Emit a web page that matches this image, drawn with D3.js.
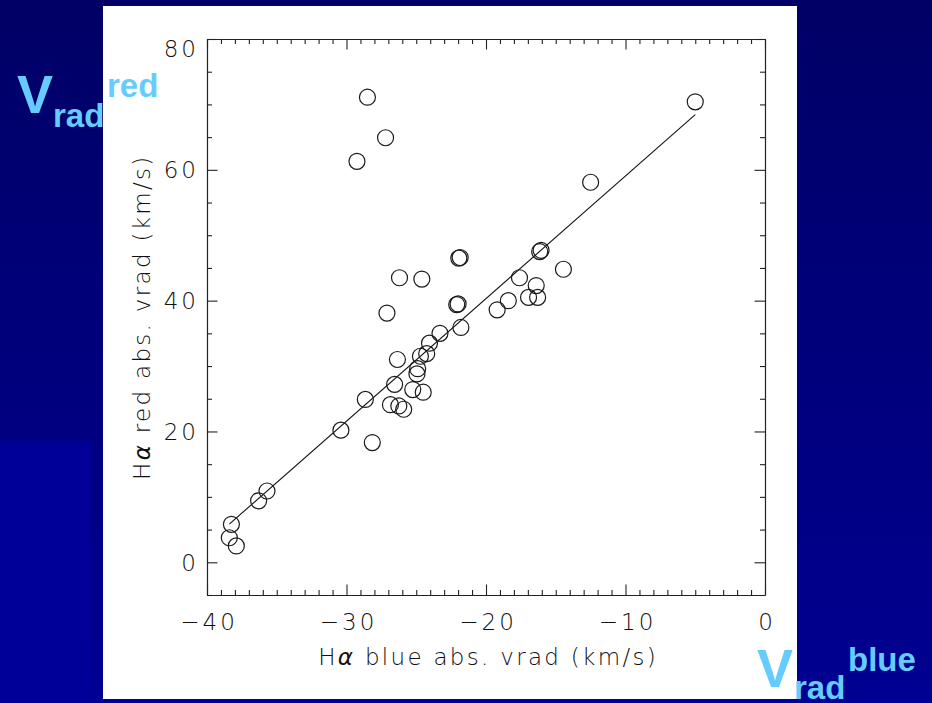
<!DOCTYPE html>
<html>
<head>
<meta charset="utf-8">
<script src="https://cdn.jsdelivr.net/npm/d3@7"></script>
<style>
  html, body { margin: 0; padding: 0; background: #000066; }
  svg { display: block; }
  .tick text, .axis-title { font-family: "DejaVu Sans", "Liberation Sans", sans-serif; font-weight: 200; fill: #111; }
  .slide-label { font-family: "Liberation Sans", Arial, sans-serif; font-weight: bold; fill: #66CCFF; }
</style>
</head>
<body>
<script>
// Hα absorption radial velocities: blue component (x) vs red component (y), km/s
const blueVrad = [
  -5.0, -28.5, -27.2, -29.25, -12.5,
  -21.95, -21.85, -16.15, -16.05,
  -26.2, -24.6, -17.6, -14.45, -16.4,
  -16.95, -16.3, -18.4, -19.2, -22.1, -22.0,
  -27.1, -21.8, -23.3, -24.05, -24.25,
  -24.7, -26.35, -24.9, -24.95, -26.55,
  -25.25, -24.5, -28.65, -26.85, -26.25,
  -25.9, -30.4, -28.15, -35.7, -36.3,
  -38.25, -38.4, -37.9
];
const redVrad = [
  70.4, 71.1, 64.9, 61.3, 58.1,
  46.5, 46.6, 47.5, 47.7,
  43.5, 43.3, 43.5, 44.8, 42.3,
  40.5, 40.5, 40.0, 38.6, 39.4, 39.5,
  38.1, 35.9, 35.0, 33.5, 31.9,
  31.5, 31.0, 29.6, 28.8, 27.2,
  26.4, 26.0, 24.9, 24.1, 23.9,
  23.4, 20.2, 18.3, 10.9, 9.4,
  5.8, 3.75, 2.5
];

// Linear fit red = intercept + slope * blue
const fitIntercept = 77.8;
const fitSlope = 1.874;

// Axis ranges and labelled ticks
const xDomain = [-40, 0];
const yDomain = [-5, 80];
const xMajorTicks = [-40, -30, -20, -10, 0];
const yMajorTicks = [0, 20, 40, 60, 80];
const xMinorStep = 1;
const yMinorStep = 5;

const xTitle = ["H", "α", " blue abs. vrad (km/s)"];
const yTitle = ["H", "α", " red abs. vrad (km/s)"];

const W = 932, H = 703;
const svg = d3.select("body").append("svg").attr("width", W).attr("height", H);

// Slide background
const defs = svg.append("defs");
const grad = defs.append("linearGradient").attr("id", "bg").attr("x1", 0).attr("y1", 0).attr("x2", 0).attr("y2", 1);
grad.append("stop").attr("offset", "0%").attr("stop-color", "#000066");
grad.append("stop").attr("offset", "100%").attr("stop-color", "#000092");
svg.append("rect").attr("width", W).attr("height", H).attr("fill", "url(#bg)");
svg.append("rect").attr("x", 0).attr("y", 441).attr("width", 92).attr("height", H - 441).attr("fill", "#000099");
svg.append("rect").attr("x", 0).attr("y", 699).attr("width", W).attr("height", 4).attr("fill", "#000099");

// White plot panel
svg.append("rect").attr("x", 103).attr("y", 6).attr("width", 694).attr("height", 693).attr("fill", "#ffffff");

// Plot area
const pLeft = 207, pRight = 765, pTop = 39, pBottom = 595;
const x = d3.scaleLinear().domain(xDomain).range([pLeft, pRight]);
const y = d3.scaleLinear().domain(yDomain).range([pBottom, pTop]);

const g = svg.append("g");
const axisColor = "#222";
const majorLen = 10.5, minorLen = 5;

const xMinor = d3.range(xDomain[0], xDomain[1] + 1e-9, xMinorStep).filter(v => !xMajorTicks.includes(v));
const yMinor = d3.range(yDomain[0], yDomain[1] + 1e-9, yMinorStep).filter(v => !yMajorTicks.includes(v));

function styleAxis(sel) {
  sel.select(".domain").attr("stroke", axisColor).attr("stroke-width", 1.2);
  sel.selectAll(".tick line").attr("stroke", axisColor).attr("stroke-width", 1.1);
}

const tickFont = 23, tickSpacing = 3;

// Bottom axis with labels
const gb = g.append("g").attr("transform", `translate(0,${pBottom})`)
  .call(d3.axisBottom(x).tickValues(xMajorTicks).tickSizeInner(-majorLen).tickSizeOuter(0).tickPadding(19)
    .tickFormat(d => d === 0 ? "0" : "\u2212" + Math.abs(d)));
styleAxis(gb);
gb.selectAll(".tick text").attr("font-size", tickFont).attr("letter-spacing", tickSpacing)
  .attr("dx", tickSpacing / 2).attr("dy", "0.71em");
g.append("g").attr("transform", `translate(0,${pBottom})`)
  .call(d3.axisBottom(x).tickValues(xMinor).tickSizeInner(-minorLen).tickSizeOuter(0).tickFormat(""))
  .call(styleAxis).select(".domain").remove();

// Top axis, ticks only
const gt = g.append("g").attr("transform", `translate(0,${pTop})`)
  .call(d3.axisTop(x).tickValues(xMajorTicks).tickSizeInner(-majorLen).tickSizeOuter(0).tickFormat(""));
styleAxis(gt);
g.append("g").attr("transform", `translate(0,${pTop})`)
  .call(d3.axisTop(x).tickValues(xMinor).tickSizeInner(-minorLen).tickSizeOuter(0).tickFormat(""))
  .call(styleAxis).select(".domain").remove();

// Left axis with labels
const gl = g.append("g").attr("transform", `translate(${pLeft},0)`)
  .call(d3.axisLeft(y).tickValues(yMajorTicks).tickSizeInner(-majorLen).tickSizeOuter(0).tickPadding(11));
styleAxis(gl);
gl.selectAll(".tick text").attr("font-size", tickFont).attr("letter-spacing", tickSpacing)
  .attr("dx", tickSpacing)
  .attr("dy", d => d === yDomain[1] ? "0.75em" : "0.35em");
g.append("g").attr("transform", `translate(${pLeft},0)`)
  .call(d3.axisLeft(y).tickValues(yMinor).tickSizeInner(-minorLen).tickSizeOuter(0).tickFormat(""))
  .call(styleAxis).select(".domain").remove();

// Right axis, ticks only
const gr = g.append("g").attr("transform", `translate(${pRight},0)`)
  .call(d3.axisRight(y).tickValues(yMajorTicks).tickSizeInner(-majorLen).tickSizeOuter(0).tickFormat(""));
styleAxis(gr);
g.append("g").attr("transform", `translate(${pRight},0)`)
  .call(d3.axisRight(y).tickValues(yMinor).tickSizeInner(-minorLen).tickSizeOuter(0).tickFormat(""))
  .call(styleAxis).select(".domain").remove();

// Fit line across the range of the blue velocities
const [xmin, xmax] = d3.extent(blueVrad);
const fitLine = d3.line().x(d => x(d)).y(d => y(fitIntercept + fitSlope * d));
g.append("path").datum([xmin, xmax]).attr("d", fitLine)
  .attr("fill", "none").attr("stroke", "#111").attr("stroke-width", 1.1);

// Data points as open circles
const pts = blueVrad.map((b, i) => ({ b, r: redVrad[i] }));
g.append("g").selectAll("circle").data(pts).join("circle")
  .attr("cx", d => x(d.b)).attr("cy", d => y(d.r)).attr("r", 8)
  .attr("fill", "none").attr("stroke", "#1a1a1a").attr("stroke-width", 1.2);

// Axis titles
function title(parts, sel) {
  sel.append("tspan").text(parts[0]);
  sel.append("tspan").attr("font-style", "italic").text(parts[1]);
  sel.append("tspan").text(parts[2]);
}
const titleFont = 23, titleSpacing = 2.3;
const xt = svg.append("text").attr("class", "axis-title")
  .attr("x", 487 + titleSpacing / 2).attr("y", 665).attr("text-anchor", "middle")
  .attr("font-size", titleFont).attr("letter-spacing", titleSpacing);
title(xTitle, xt);
const yt = svg.append("text").attr("class", "axis-title")
  .attr("transform", `translate(150,${316 + titleSpacing / 2}) rotate(-90)`)
  .attr("text-anchor", "middle").attr("font-size", titleFont).attr("letter-spacing", titleSpacing);
title(yTitle, yt);

// Slide annotations: V_rad^red and V_rad^blue
function vlabel(xV, yV, sub, supText, xSup, ySup) {
  svg.append("text").attr("class", "slide-label").attr("x", xV).attr("y", yV).attr("font-size", 54).text("V");
  svg.append("text").attr("class", "slide-label").attr("x", sub[0]).attr("y", sub[1]).attr("font-size", 33).text("rad");
  svg.append("text").attr("class", "slide-label").attr("x", xSup).attr("y", ySup).attr("font-size", 33).text(supText);
}
vlabel(17, 113, [53, 127], "red", 107, 97);
vlabel(757, 687, [794, 699], "blue", 848, 671);
</script>
</body>
</html>
